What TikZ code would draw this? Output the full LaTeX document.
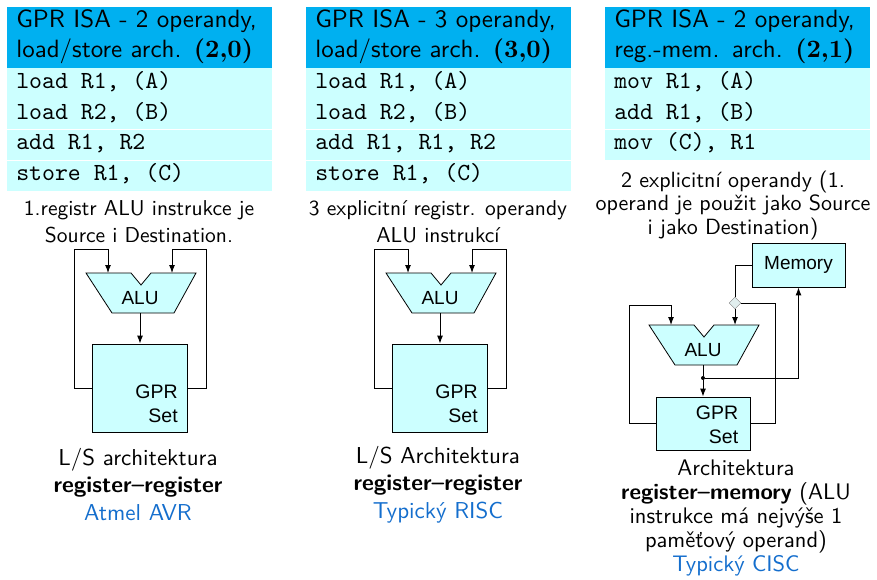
\documentclass[tikz,border=0pt]{standalone}
\usepackage{fontspec}
\setmainfont{lmroman10-regular.otf}[BoldFont=lmroman10-bold.otf]
\setsansfont{lmsans10-regular.otf}[BoldFont=lmsans10-bold.otf]
\setmonofont{lmmono10-regular.otf}
\newfontfamily\figfont{Liberation Sans}
\usetikzlibrary{positioning, shapes.geometric, arrows.meta, calc}
\definecolor{headBlue}{RGB}{0,176,240}
\definecolor{codeCyan}{RGB}{204,255,255}
\definecolor{linkBlue}{RGB}{20,110,205}
\definecolor{tapGray}{RGB}{225,238,238}

\begin{document}
\begin{tikzpicture}[x=1pt, y=-1pt, node distance=0pt,
      cell/.style={anchor=north west, text width=246pt, inner xsep=9pt, inner ysep=0pt, text height=20pt, text depth=10pt, align=left, line width=0.6pt},
      head/.style={cell, fill=headBlue, draw=headBlue, font=\sffamily\fontsize{25}{30}\selectfont},
      code/.style={cell, fill=codeCyan, draw=codeCyan, font=\ttfamily\fontsize{24.6}{30}\selectfont, execute at begin node={\spaceskip=12.9pt\relax}},
      sep/.style={white, line width=0.8pt},
      desc/.style={anchor=base, align=center, font=\sffamily\fontsize{21.5}{27}\selectfont},
      caption/.style={anchor=base, align=center, font=\sffamily\fontsize{23}{27.5}\selectfont},
      unit/.style={rectangle, draw=black, fill=codeCyan, line width=0.8pt},
      gprtext/.style={anchor=south east, align=right, inner sep=0pt, xshift=-10pt, yshift=10pt, font=\figfont\fontsize{19.5}{24}\selectfont},
      alu/.style={inner sep=0pt, font=\figfont\fontsize{19}{19}\selectfont},
      alubody/.style={draw=black, fill=codeCyan, line width=0.8pt},
      tap/.style={diamond, draw=gray, fill=tapGray, minimum size=12pt, inner sep=0pt},
      junction/.style={circle, fill=black, minimum size=4pt, inner sep=0pt},
      line/.style={line width=1pt},
      arrow/.style={line, -{Latex[length=8pt,width=6pt]}}]
      \useasboundingbox (0,0) rectangle (877,580);

      \node[head] (t1h1) at (7,7) {GPR ISA - 2 operandy,};
      \node[head, below=of t1h1] (t1h2) {load/store arch. \textbf{\rmfamily (2,0)}};
      \node[code, below=of t1h2] (t1c1) {load R1, (A)};
      \node[code, below=of t1c1] (t1c2) {load R2, (B)};
      \node[code, below=of t1c2] (t1c3) {add R1, R2};
      \node[code, below=of t1c3] (t1c4) {store R1, (C)};
      \draw[sep] (t1c2.south west) -- (t1c2.south east);
      \draw[sep] (t1c3.south west) -- (t1c3.south east);

      \node[head] (t2h1) at (306,7) {GPR ISA - 3 operandy,};
      \node[head, below=of t2h1] (t2h2) {load/store arch. \textbf{\rmfamily (3,0)}};
      \node[code, below=of t2h2] (t2c1) {load R1, (A)};
      \node[code, below=of t2c1] (t2c2) {load R2, (B)};
      \node[code, below=of t2c2] (t2c3) {add R1, R1, R2};
      \node[code, below=of t2c3] (t2c4) {store R1, (C)};
      \draw[sep] (t2c2.south west) -- (t2c2.south east);
      \draw[sep] (t2c3.south west) -- (t2c3.south east);

      \node[head] (t3h1) at (605,7) {GPR ISA - 2 operandy,};
      \node[head, below=of t3h1] (t3h2) {reg.-mem. arch. \textbf{\rmfamily (2,1)}};
      \node[code, below=of t3h2] (t3c1) {mov R1, (A)};
      \node[code, below=of t3c1] (t3c2) {add R1, (B)};
      \node[code, below=of t3c2] (t3c3) {mov (C), R1};
      \draw[sep] (t3c2.south west) -- (t3c2.south east);

      \node[desc] (d1) at (139,242) {1.registr ALU instrukce je\\Source i Destination.};
      \node[desc] (d2) at (438,242) {3 explicitní registr. operandy\\ALU instrukcí};
      \node[desc, font=\sffamily\fontsize{22}{23.5}\selectfont] (d3) at (733,234) {2 explicitní operandy (1.\\operand je použit jako Source\\i jako Destination)};

      \draw[alubody] (86,273) -- ++(45,0) -- ++(10,12) -- ++(10,-12) -- ++(45,0) -- ++(-22,40) -- ++(-62,0) -- cycle;
      \node[alu] (alu1) at (140,298) {ALU};
      \coordinate (alu1a) at (108,273);
      \coordinate (alu1b) at (172,273);
      \coordinate (alu1y) at (140,313);
      \node[unit, minimum width=95pt, minimum height=88pt, label={[gprtext]south east:GPR\\Set}] (gpr1) at (140,388) {};
      \draw[arrow] (gpr1.west) -- ++(-18,0) |- ($(alu1a)+(0,-24)$) -- (alu1a);
      \draw[arrow] (gpr1.east) -- ++(19,0) |- ($(alu1b)+(0,-24)$) -- (alu1b);
      \draw[arrow] (alu1y) -- (gpr1.north);

      \draw[alubody] (386,273) -- ++(45,0) -- ++(10,12) -- ++(10,-12) -- ++(45,0) -- ++(-22,40) -- ++(-62,0) -- cycle;
      \node[alu] (alu2) at (440,298) {ALU};
      \coordinate (alu2a) at (408,273);
      \coordinate (alu2b) at (472,273);
      \coordinate (alu2y) at (440,313);
      \node[unit, minimum width=95pt, minimum height=88pt, label={[gprtext]south east:GPR\\Set}] (gpr2) at (440,388) {};
      \draw[arrow] (gpr2.west) -- ++(-18,0) |- ($(alu2a)+(0,-24)$) -- (alu2a);
      \draw[arrow] (gpr2.east) -- ++(19,0) |- ($(alu2b)+(0,-24)$) -- (alu2b);
      \draw[arrow] (alu2y) -- (gpr2.north);

      \node[unit, minimum width=93pt, minimum height=44pt, font=\figfont\fontsize{19}{19}\selectfont] (mem) at (798.5,265) {Memory};
      \node[tap] (tap) at (735,303) {};
      \draw[alubody] (649,325) -- ++(45,0) -- ++(10,12) -- ++(10,-12) -- ++(45,0) -- ++(-22,40) -- ++(-62,0) -- cycle;
      \node[alu] (alu3) at (703,350) {ALU};
      \coordinate (alu3a) at (671,325);
      \coordinate (alu3b) at (735,325);
      \coordinate (alu3y) at (703,365);
      \node[unit, minimum width=94pt, minimum height=53pt, label={[gprtext, xshift=-2pt, yshift=-3pt]south east:GPR\\Set}] (gpr3) at (703,423.5) {};
      \node[junction] (jn) at (703,378) {};
      \draw[line] (mem.west) -| (tap.north);
      \draw[arrow] (tap.south) -- (alu3b);
      \draw[line] (gpr3.east) -- ++(25,0) |- (tap.east);
      \draw[arrow] (gpr3.west) -- ++(-26,0) |- ($(alu3a)+(0,-20)$) -- (alu3a);
      \draw[line] (alu3y) -- (jn);
      \draw[arrow] (jn) -- (gpr3.north);
      \draw[arrow] (jn) -| (mem.south);

      \node[caption] (c1) at (138,520) {L/S architektura\\\textbf{register--register}\\\textcolor{linkBlue}{Atmel AVR}};
      \node[caption] (c2) at (438,518) {L/S Architektura\\\textbf{register--register}\\\textcolor{linkBlue}{Typický RISC}};
      \node[caption, font=\sffamily\fontsize{22.5}{24}\selectfont] (c3) at (736,571) {Architektura\\\textbf{register--memory} (ALU\\instrukce má nejvýše 1\\paměťový operand)\\\textcolor{linkBlue}{Typický CISC}};
  \end{tikzpicture}
\end{document}
